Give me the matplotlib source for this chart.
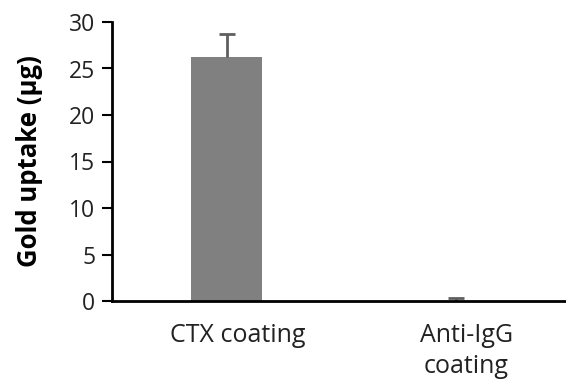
import matplotlib
matplotlib.use("Agg")
import matplotlib.pyplot as plt
import matplotlib.transforms as mtransforms

categories = ["CTX coating", "Anti-IgG\ncoating"]
uptake = [26.2, 0.05]
err_plus = [2.5, 0.3]

plt.rcParams['font.family'] = ['Open Sans', 'DejaVu Sans']

fig = plt.figure(figsize=(5.66, 3.82), dpi=100)
ax = fig.add_axes([112/566, 1 - 301/382, 458/566, 279/382])

x = list(range(len(categories)))
ax.bar(x, uptake, width=0.31, color='#808080')
# Excel style "plus" error bar: hide lower cap
_, caps, _ = ax.errorbar(x, uptake, yerr=[[0, 0], err_plus], fmt='none',
                         ecolor='#5f5f5f', elinewidth=2, capsize=6, capthick=2)
caps[0].set_visible(False)

ax.set_xlim(-0.5, 1.5)
ax.set_ylim(0, 30)
ax.set_yticks(range(0, 31, 5))
ax.set_xticks(x)
ax.set_xticklabels(categories, fontsize=18, color='#222222', linespacing=1.3)
ax.tick_params(axis='x', length=0, pad=16)
ax.tick_params(axis='y', length=7, width=1.5, labelsize=16.5, labelcolor='#222222', pad=5)
ax.set_ylabel(u"Gold uptake (\u03bcg)", fontsize=18.5, fontweight='bold', labelpad=19)

# category labels sit a bit right of the bars in the original
shift = mtransforms.ScaledTranslation(11/100, 0, fig.dpi_scale_trans)
for lbl in ax.get_xticklabels():
    lbl.set_transform(lbl.get_transform() + shift)

for s in ['top', 'right']:
    ax.spines[s].set_visible(False)
ax.spines['left'].set_linewidth(2)
ax.spines['bottom'].set_linewidth(2)

fig.savefig("out.png", dpi=100)
